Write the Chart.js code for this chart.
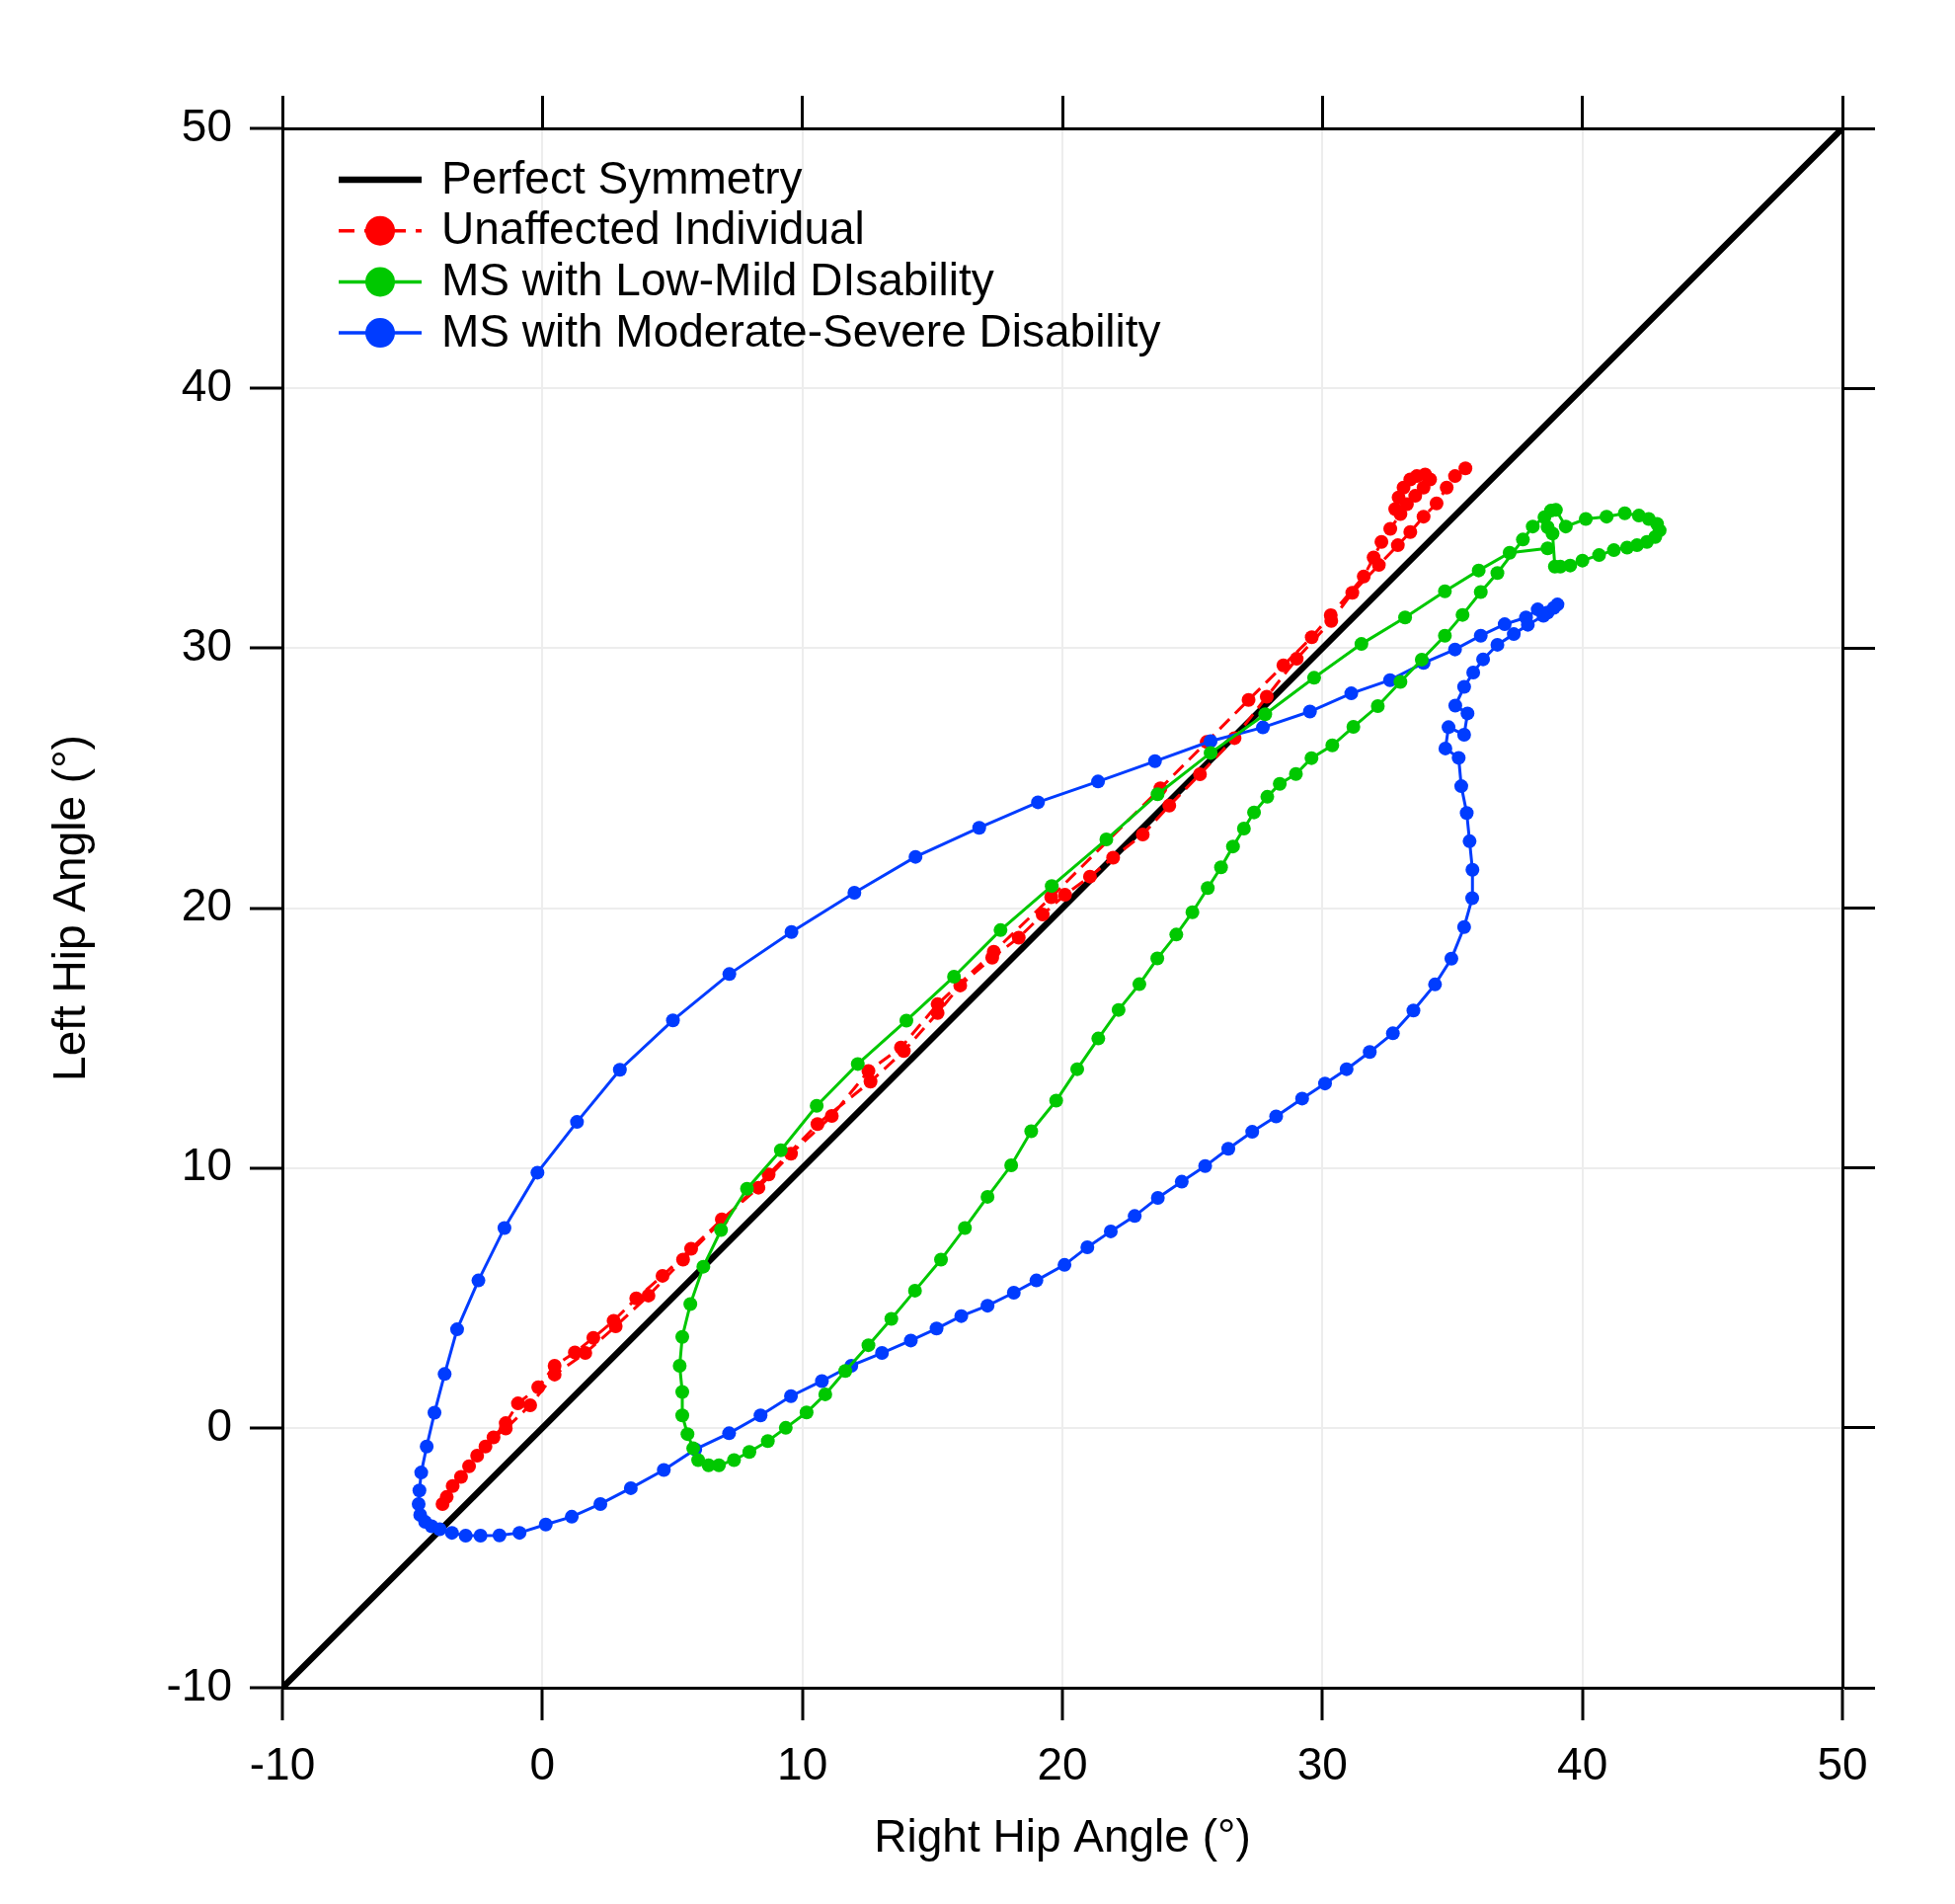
<!DOCTYPE html>
<html>
<head>
<meta charset="utf-8">
<title>Right vs Left Hip Angle</title>
<script src="https://cdn.jsdelivr.net/npm/chart.js@4.4.1/dist/chart.umd.min.js"></script>
<style>
  html, body { margin: 0; padding: 0; background: #fff; }
  #wrap { width: 1980px; height: 1928px; }
</style>
</head>
<body>
<div id="wrap"><canvas id="hipChart" width="1980" height="1928"></canvas></div>
<script>
// ── Data ([right hip °, left hip °]) ────────────────────────────────────────
const AXIS_MIN = -10;
const AXIS_MAX = 50;
const AXIS_STEP = 10;

const symmetry = [[-10, -10], [50, 50]];

const unaffected = [
  [35.50,36.92],[35.10,36.62],[34.78,36.18],[34.39,35.57],[33.89,35.06],[33.38,34.47],
  [32.90,33.96],[32.17,33.20],[31.15,32.13],[30.34,31.05],[29.01,29.59],[27.86,28.13],
  [26.62,26.54],[25.29,25.15],[24.11,23.94],[23.09,22.83],[21.95,21.94],[21.06,21.21],
  [20.10,20.51],[19.24,19.75],[18.32,18.86],[17.30,18.09],[16.07,17.02],[15.20,15.96],
  [13.90,14.50],[12.62,13.32],[10.58,11.69],[8.70,9.75],[5.41,6.47],[4.08,5.09],
  [2.82,3.91],[1.65,2.88],[0.47,2.05],[-0.47,0.87],[-1.41,-0.03],[-1.88,-0.37],
  [-2.51,-1.07],[-3.13,-1.89],[-3.68,-2.66],[-3.84,-2.93],
  [-3.45,-2.24],[-2.82,-1.48],[-2.19,-0.72],[-1.41,0.18],[-0.94,0.94],[-0.16,1.56],
  [0.47,2.39],[1.25,2.90],[1.96,3.46],[2.74,4.12],[3.61,4.98],[4.62,5.85],
  [5.72,6.89],[6.90,8.02],[8.31,9.24],[9.56,10.55],[11.13,12.00],[12.54,13.73],
  [13.79,14.63],[15.20,16.30],[17.36,18.32],[19.57,20.42],[23.77,24.61],[25.55,26.39],
  [27.16,28.01],[28.50,29.34],[29.59,30.42],[30.32,31.27],[31.59,32.76],[31.97,33.49],
  [32.27,34.09],[32.61,34.59],[33.00,35.16],[33.25,35.54],[33.57,35.86],[33.89,36.18],
  [34.14,36.49],[33.95,36.68],[33.63,36.62],[33.38,36.49],[33.12,36.18],[32.93,35.80],
  [32.80,35.35]
];

const lowMild = [
  [38.66,33.84],[37.20,33.67],[36.01,32.99],[34.71,32.19],[33.18,31.18],[31.50,30.16],
  [29.68,28.86],[27.80,27.46],[25.70,25.97],[23.66,24.38],[21.69,22.64],[19.59,20.85],
  [17.62,19.15],[15.83,17.36],[14.00,15.67],[12.13,14.00],[10.55,12.39],[9.17,10.68],
  [7.87,9.20],[6.87,7.61],[6.19,6.20],[5.69,4.76],[5.38,3.50],[5.28,2.39],
  [5.38,1.38],[5.38,0.48],[5.58,-0.24],[5.80,-0.79],[5.99,-1.24],[6.39,-1.44],
  [6.79,-1.44],[7.37,-1.24],[7.96,-0.93],[8.67,-0.51],[9.36,0.00],[10.16,0.59],
  [10.88,1.29],[11.65,2.19],[12.54,3.18],[13.42,4.19],[14.33,5.28],[15.33,6.47],
  [16.25,7.69],[17.12,8.89],[18.03,10.10],[18.80,11.41],[19.76,12.59],[20.57,13.80],
  [21.38,14.98],[22.16,16.08],[22.96,17.07],[23.65,18.06],[24.38,18.98],[25.00,19.84],
  [25.59,20.77],[26.10,21.57],[26.56,22.37],[26.98,23.06],[27.37,23.68],[27.88,24.28],
  [28.36,24.78],[28.98,25.16],[29.58,25.77],[30.38,26.26],[31.19,26.97],[32.13,27.77],
  [33.00,28.70],[33.82,29.56],[34.71,30.48],[35.39,31.28],[36.09,32.16],[36.73,32.89],
  [37.71,34.18],[38.09,34.68],[38.54,35.04],[38.79,35.29],[38.98,35.32],[39.36,34.68],
  [40.13,34.97],[40.93,35.06],[41.63,35.19],[42.17,35.10],[42.55,34.97],[42.87,34.78],
  [42.97,34.53],[42.80,34.28],[42.48,34.09],[42.10,33.96],[41.72,33.87],[41.21,33.77],
  [40.64,33.58],[40.00,33.37],[39.53,33.18],[39.15,33.14],[38.94,33.14],[38.85,34.41],
  [38.66,34.66]
];

const modSevere = [
  [39.04,31.68],[38.66,31.37],[38.28,31.49],[37.83,31.18],[37.01,30.92],[36.09,30.48],
  [35.10,29.95],[33.89,29.43],[32.60,28.77],[31.11,28.26],[29.52,27.56],[27.71,26.95],
  [25.70,26.42],[23.56,25.65],[21.37,24.87],[19.06,24.07],[16.80,23.09],[14.35,21.97],
  [12.00,20.59],[9.58,19.08],[7.19,17.46],[5.02,15.68],[2.98,13.78],[1.33,11.77],
  [-0.19,9.82],[-1.46,7.69],[-2.46,5.67],[-3.28,3.79],[-3.76,2.07],[-4.15,0.58],
  [-4.45,-0.72],[-4.66,-1.72],[-4.73,-2.41],[-4.76,-2.93],[-4.70,-3.35],[-4.51,-3.62],
  [-4.26,-3.79],[-3.95,-3.90],[-3.48,-4.04],[-2.95,-4.15],[-2.38,-4.15],[-1.65,-4.14],
  [-0.88,-4.04],[0.13,-3.72],[1.13,-3.42],[2.23,-2.93],[3.40,-2.32],[4.67,-1.62],
  [5.88,-0.83],[7.18,-0.21],[8.39,0.48],[9.56,1.22],[10.75,1.80],[11.88,2.39],
  [13.06,2.88],[14.17,3.36],[15.16,3.82],[16.11,4.30],[17.12,4.70],[18.13,5.20],
  [19.00,5.67],[20.08,6.27],[20.96,6.95],[21.86,7.56],[22.78,8.15],[23.67,8.85],
  [24.59,9.47],[25.49,10.07],[26.38,10.74],[27.30,11.39],[28.22,11.98],[29.22,12.67],
  [30.10,13.25],[30.93,13.80],[31.82,14.46],[32.71,15.18],[33.50,16.06],[34.33,17.06],
  [34.96,18.05],[35.45,19.27],[35.76,20.38],[35.77,21.47],[35.66,22.57],[35.55,23.66],
  [35.34,24.69],[35.24,25.78],[34.73,26.14],[34.85,26.96],[35.45,26.67],[35.58,27.49],
  [35.11,27.79],[35.45,28.51],[35.80,29.06],[36.18,29.57],[36.73,30.13],[37.36,30.54],
  [37.90,30.90],[38.50,31.25],[38.90,31.55]
];

const LABELS = [
  "Perfect Symmetry",
  "Unaffected Individual",
  "MS with Low-Mild DIsability",
  "MS with Moderate-Severe Disability"
];

// ── Style ────────────────────────────────────────────────────────────────────
const FONT = '"Liberation Sans", Arial, Helvetica, sans-serif';
const FONT_SIZE = 46;
const RED   = "#ff0000";
const GREEN = "#00c800";
const BLUE  = "#003cff";

Chart.defaults.font.family = FONT;
Chart.defaults.font.size   = FONT_SIZE;
Chart.defaults.color       = "#000";

const toXY = pts => pts.map(([x, y]) => ({ x, y }));

function trace(label, pts, color, extra) {
  return Object.assign({
    label,
    data: toXY(pts),
    showLine: true,
    borderColor: color,
    backgroundColor: color,
    borderWidth: 3,
    pointRadius: 7,
    pointHoverRadius: 7,
    pointBorderWidth: 0,
    pointBackgroundColor: color,
    tension: 0,
  }, extra || {});
}

// ── Legend drawn inside the plot, top-left ──────────────────────────────────
const insetLegend = {
  id: "insetLegend",
  afterDraw(chart) {
    const { ctx, chartArea } = chart;
    const x0 = chartArea.left + 57, x1 = x0 + 84;
    const tx = x1 + 20;
    const top = chartArea.top + 52, rowH = 51.7;
    chart.data.datasets.forEach((ds, i) => {
      const y = top + i * rowH;
      ctx.save();
      ctx.strokeStyle = ds.borderColor;
      ctx.lineWidth   = ds.pointRadius > 0 ? 3.5 : ds.borderWidth;
      ctx.setLineDash(ds.borderDash ? [16, 10] : []);
      ctx.beginPath();
      ctx.moveTo(x0, y);
      ctx.lineTo(x1, y);
      ctx.stroke();
      if (ds.pointRadius > 0) {
        ctx.fillStyle = ds.pointBackgroundColor;
        ctx.beginPath();
        ctx.arc((x0 + x1) / 2, y, 15, 0, Math.PI * 2);
        ctx.fill();
      }
      ctx.setLineDash([]);
      ctx.fillStyle = "#000";
      ctx.font = `${FONT_SIZE}px ${FONT}`;
      ctx.textBaseline = "middle";
      ctx.textAlign = "left";
      ctx.fillText(ds.label, tx, y + 1);
      ctx.restore();
    });
  }
};

// ── Axes: labelled bottom/left, mirrored ticks top/right ────────────────────
const frame     = { color: "#000", width: 3 };
const tickMarks = { tickColor: "#000", tickWidth: 3, tickLength: 33 };

function axis(position, size, extra) {
  const horizontal = position === "bottom" || position === "top";
  return Object.assign({
    type: "linear",
    position,
    min: AXIS_MIN,
    max: AXIS_MAX,
    border: frame,
    afterFit: s => { if (horizontal) s.height = size; else s.width = size; },
  }, extra);
}

new Chart(document.getElementById("hipChart"), {
  type: "scatter",
  data: {
    datasets: [
      trace(LABELS[0], symmetry, "#000", { borderWidth: 6.5, pointRadius: 0, pointHoverRadius: 0, order: 4 }),
      trace(LABELS[1], unaffected, RED, { borderDash: [14, 8], order: 3 }),
      trace(LABELS[2], lowMild, GREEN, { order: 1 }),
      trace(LABELS[3], modSevere, BLUE, { order: 2 }),
    ]
  },
  options: {
    responsive: false,
    devicePixelRatio: 1,
    animation: false,
    events: [],
    layout: { padding: 0, autoPadding: false },
    plugins: {
      legend: { display: false },
      tooltip: { enabled: false },
    },
    scales: {
      x: axis("bottom", 219, {
        ticks: { stepSize: AXIS_STEP, padding: 20, maxRotation: 0 },
        grid: Object.assign({ color: "#ededed", lineWidth: 2 }, tickMarks),
        title: { display: true, text: "Right Hip Angle (°)", padding: { top: 0, bottom: 38 } },
      }),
      y: axis("left", 286, {
        ticks: { stepSize: AXIS_STEP, padding: 18 },
        grid: Object.assign({ color: "#ededed", lineWidth: 2 }, tickMarks),
        title: { display: true, text: "Left Hip Angle (°)", padding: { top: 46, bottom: 0 } },
      }),
      xTop: axis("top", 130, {
        ticks: { stepSize: AXIS_STEP, display: false },
        grid: Object.assign({ drawOnChartArea: false }, tickMarks),
      }),
      yRight: axis("right", 114, {
        ticks: { stepSize: AXIS_STEP, display: false },
        grid: Object.assign({ drawOnChartArea: false }, tickMarks),
      }),
    }
  },
  plugins: [insetLegend]
});
</script>
</body>
</html>
